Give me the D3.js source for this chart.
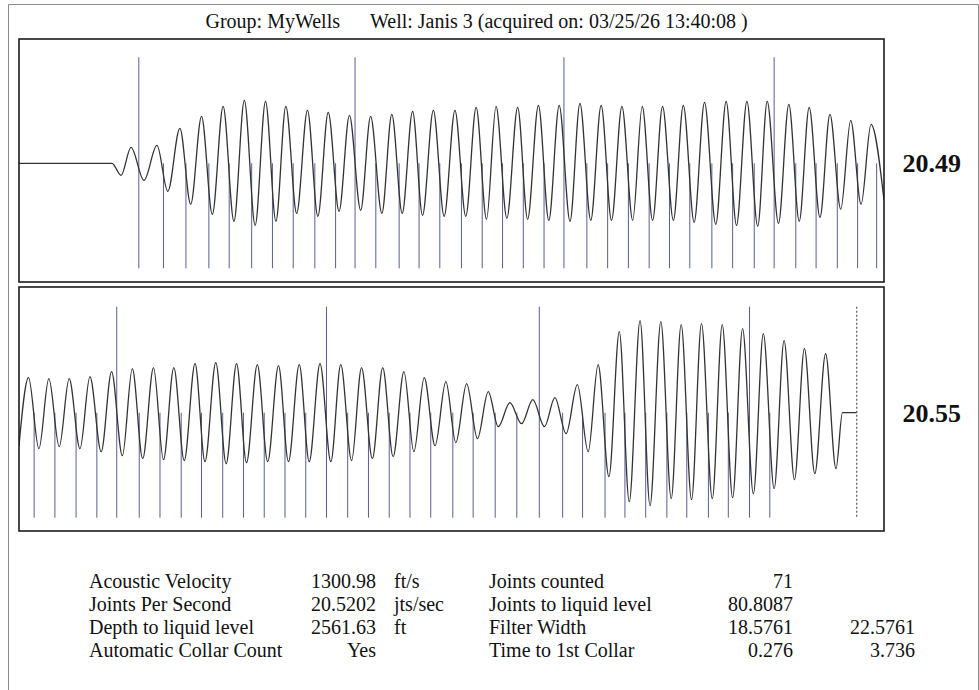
<!DOCTYPE html>
<html lang="en">
	<head>
		<meta charset="utf-8">
		<title>Acoustic fluid level shot</title>
		<script type="text/javascript" src="https://cdn.jsdelivr.net/npm/d3@7"></script>
		<style type="text/css">
			body { margin: 0; background: #fff; }
			text { font-family: "Liberation Serif", "Times New Roman", serif; fill: #111; }
		</style>
	</head>
	<body>
		<script type="text/javascript">

var title1 = "Group: MyWells";
var title2 = "Well: Janis 3 (acquired on: 03/25/26 13:40:08 )";

// [time (s), amplitude] at each turn of the filtered signal
var topWave = [[0,0],[0.215,0],[0.236,-12],[0.259,16],[0.289,-17],[0.319,18],[0.344,-28],[0.372,35],
	[0.397,-41],[0.422,47],[0.447,-51],[0.472,57],[0.497,-58],[0.521,63],[0.546,-62],[0.570,62],
	[0.594,-58],[0.617,57],[0.642,-50],[0.667,53],[0.691,-53],[0.715,51],[0.740,-48],[0.764,48],
	[0.790,-47],[0.813,47],[0.839,-50],[0.862,49],[0.886,-50],[0.910,52],[0.933,-52],[0.958,53],
	[0.983,-53],[1.008,53],[1.033,-53],[1.057,56],[1.081,-56],[1.103,57],[1.128,-55],[1.153,56],
	[1.176,-56],[1.201,58],[1.225,-57],[1.249,58],[1.274,-58],[1.297,60],[1.322,-57],[1.346,58],
	[1.370,-57],[1.394,57],[1.419,-57],[1.441,57],[1.465,-57],[1.488,57],[1.513,-57],[1.536,58],
	[1.561,-59],[1.585,61],[1.611,-61],[1.635,62],[1.659,-62],[1.683,62],[1.708,-63],[1.730,62],
	[1.756,-60],[1.780,59],[1.804,-58],[1.827,56],[1.852,-54],[1.875,49],[1.900,-46],[1.923,43],
	[1.947,-41],[1.970,39],[2.000,-37]];

var bottomWave = [[2.000,-33],[2.022,35],[2.046,-36],[2.069,34],[2.093,-34],[2.116,34],[2.141,-36],
	[2.164,36],[2.190,-39],[2.214,41],[2.239,-43],[2.262,44],[2.286,-46],[2.311,45],[2.334,-47],
	[2.358,45],[2.382,-48],[2.407,49],[2.430,-49],[2.455,50],[2.479,-51],[2.503,49],[2.526,-50],
	[2.551,48],[2.575,-49],[2.600,47],[2.623,-49],[2.648,48],[2.671,-49],[2.696,49],[2.721,-49],
	[2.744,48],[2.769,-48],[2.792,45],[2.817,-46],[2.841,45],[2.865,-44],[2.890,41],[2.913,-39],
	[2.937,35],[2.962,-33],[2.987,31],[3.010,-30],[3.035,29],[3.060,-26],[3.085,21],[3.108,-14],
	[3.135,10],[3.162,-11],[3.188,13],[3.215,-14],[3.239,15],[3.265,-21],[3.291,28],[3.316,-39],
	[3.339,48],[3.364,-64],[3.388,81],[3.411,-89],[3.436,92],[3.459,-93],[3.484,91],[3.508,-86],
	[3.531,88],[3.555,-87],[3.578,89],[3.603,-86],[3.626,88],[3.650,-85],[3.673,84],[3.698,-81],
	[3.721,79],[3.746,-76],[3.769,72],[3.793,-67],[3.816,64],[3.840,-61],[3.865,59],[3.889,-56],
	[3.904,0],[3.937,0]];

// collar times (s), every 10th joint drawn tall
var topCollars = [0.277,0.334,0.386,0.439,0.486,0.538,0.586,0.634,0.684,0.732,
	0.777,0.825,0.879,0.925,0.973,1.023,1.071,1.118,1.166,1.214,
	1.260,1.313,1.361,1.409,1.457,1.504,1.551,1.602,1.650,1.700,
	1.746,1.796,1.843,1.892,1.939,1.983];
var bottomCollars = [2.035,2.083,2.132,2.180,2.226,2.278,2.326,2.375,2.422,2.471,
	2.519,2.567,2.615,2.663,2.711,2.760,2.808,2.856,2.904,2.952,
	3.003,3.050,3.101,3.151,3.203,3.257,3.303,3.355,3.401,3.449,
	3.498,3.544,3.594,3.640,3.689,3.736];
var liquidLevelTime = 3.937;

var topRate = "20.49";
var bottomRate = "20.55";

// results table
var labelsLeft = ["Acoustic Velocity", "Joints Per Second", "Depth to liquid level", "Automatic Collar Count"];
var valuesLeft = ["1300.98", "20.5202", "2561.63", "Yes"];
var unitsLeft = ["ft/s", "jts/sec", "ft", ""];
var labelsRight = ["Joints counted", "Joints to liquid level", "Filter Width", "Time to 1st Collar"];
var valuesRight = ["71", "80.8087", "18.5761", "0.276"];
var valuesRight2 = ["", "", "22.5761", "3.736"];

// ---------- layout

var w = 979;
var h = 690;
var left = 19, right = 884;

var svg = d3.select("body")
	.append("svg")
	.attr("width", w)
	.attr("height", h);

// outer frame
svg.append("path")
	.attr("d", "M8.5," + h + "V4.5H978.5V" + h)
	.attr("fill", "none")
	.attr("stroke", "#8a8a8a")
	.attr("stroke-width", 1);

// title
svg.append("text").attr("x", 205.5).attr("y", 28).attr("font-size", "20px").text(title1);
svg.append("text").attr("x", 370).attr("y", 28).attr("font-size", "20px").text(title2);

var line = d3.line()
	.x(function(d) { return d.x; })
	.y(function(d) { return d.y; })
	.curve(d3.curveMonotoneX);

function drawPanel(id, top, bottom, mid, tDomain, wave, collars, firstJoint, rate) {
	var xScale = d3.scaleLinear().domain(tDomain).range([left, right]);
	var yScale = d3.scaleLinear().domain([-100, 100]).range([mid + 100, mid - 100]);

	var g = svg.append("g");

	g.append("clipPath").attr("id", id)
		.append("rect")
		.attr("x", left).attr("y", top)
		.attr("width", right - left).attr("height", bottom - top);

	var inner = g.append("g").attr("clip-path", "url(#" + id + ")");

	// collar markers
	inner.selectAll("line.collar")
		.data(collars)
		.enter()
		.append("line")
		.attr("class", "collar")
		.attr("x1", function(d) { return xScale(d); })
		.attr("x2", function(d) { return xScale(d); })
		.attr("y1", function(d, i) {
			return (firstJoint + i - 1) % 10 == 0 ? yScale(106) : yScale(0);
		})
		.attr("y2", yScale(-105))
		.attr("stroke", "#566092")
		.attr("stroke-width", 1);

	// signal
	inner.append("path")
		.datum(wave.map(function(d) { return { x: xScale(d[0]), y: yScale(d[1]) }; }))
		.attr("d", line)
		.attr("fill", "none")
		.attr("stroke", "#333")
		.attr("stroke-width", 1.3);

	// frame
	g.append("rect")
		.attr("x", left).attr("y", top)
		.attr("width", right - left).attr("height", bottom - top)
		.attr("fill", "none")
		.attr("stroke", "#1c1c1c")
		.attr("stroke-width", 1.6);

	g.append("text")
		.attr("x", 961)
		.attr("y", mid + 9)
		.attr("text-anchor", "end")
		.attr("font-size", "26px")
		.attr("font-weight", "bold")
		.text(rate);

	return { x: xScale, y: yScale, g: g };
}

var p1 = drawPanel("clipTop", 39, 282, 163.3, [0, 2], topWave, topCollars, 1, topRate);
var p2 = drawPanel("clipBottom", 287, 531, 412.7, [2, 4], bottomWave, bottomCollars, topCollars.length + 1, bottomRate);

// liquid level
p2.g.append("line")
	.attr("x1", p2.x(liquidLevelTime)).attr("x2", p2.x(liquidLevelTime))
	.attr("y1", p2.y(106)).attr("y2", p2.y(-105))
	.attr("stroke", "#555")
	.attr("stroke-width", 1.2)
	.attr("stroke-dasharray", "2,2");

// ---------- table
var rowY = d3.scaleLinear().domain([0, 3]).range([588, 657]);

function column(values, x, anchor) {
	svg.selectAll(null)
		.data(values)
		.enter()
		.append("text")
		.attr("x", x)
		.attr("y", function(d, i) { return rowY(i); })
		.attr("text-anchor", anchor)
		.attr("font-size", "20px")
		.text(function(d) { return d; });
}

column(labelsLeft, 89, "start");
column(valuesLeft, 376, "end");
column(unitsLeft, 394, "start");
column(labelsRight, 489, "start");
column(valuesRight, 793, "end");
column(valuesRight2, 915, "end");

		</script>
	</body>
</html>
